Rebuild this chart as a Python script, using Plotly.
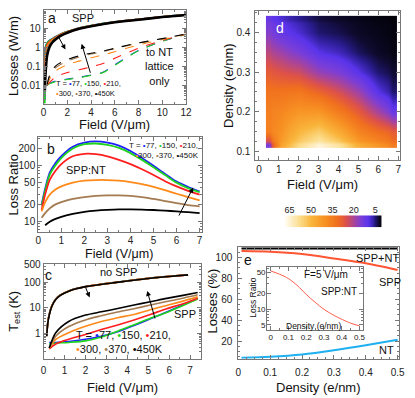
"""Figure à 5 panneaux : pertes SPP / NT en fonction du champ et de la densité"""

import math

import plotly.graph_objects as go

W, H = 415, 398
FONT = "Liberation Sans, Arial, sans-serif"

# températures et couleurs des courbes
TEMPS = ["77", "150", "210", "300", "370", "450"]
T_COLORS = ["#1f1fff", "#1ed21e", "#ff1e1e", "#ff8a1a", "#a47b50", "#000000"]

# --- panneau a : pertes (W/m) ---
A_FIELD_SPP = [0.1, 0.15, 0.2, 0.3, 0.5, 0.75, 1, 1.5, 2, 3, 4, 6, 8, 10, 12]
A_SPP = [
    [0.002, 0.9, 1.3, 1.8, 2.4, 3.0, 3.7, 5.4, 7.0, 10.8, 14.3, 22.5, 30.5, 41.5, 53.5],
    [0.0012, 0.8, 1.25, 1.75, 2.35, 2.95, 3.65, 5.35, 6.95, 10.7, 14.2, 22.4, 30.4, 41.4, 53.4],
    [0.01, 0.35, 0.85, 1.45, 2.1, 2.75, 3.45, 5.15, 6.8, 10.5, 14.0, 22.2, 30.2, 41.2, 53.2],
    [0.01, 0.15, 0.45, 1.1, 1.85, 2.55, 3.25, 4.95, 6.6, 10.3, 13.8, 22.0, 30.0, 41.0, 53.0],
    [0.01, 0.08, 0.25, 0.75, 1.55, 2.3, 3.05, 4.75, 6.4, 10.1, 13.6, 21.8, 29.8, 40.8, 52.5],
    [0.005, 0.03, 0.1, 0.4, 1.1, 1.95, 2.7, 4.4, 6.1, 9.8, 13.3, 21.5, 29.5, 40.5, 52.0],
]
A_FIELD_NT = [0.3, 0.5, 1, 2, 3, 4, 5, 6, 8, 10, 12]
A_NT = [
    [0.012, 0.014, 0.018, 0.023, 0.028, 0.038, 0.052, 0.13, 0.72, 2.2, 5.0],
    [0.011, 0.013, 0.017, 0.022, 0.027, 0.036, 0.05, 0.12, 0.7, 2.2, 5.0],
    [0.011, 0.015, 0.03, 0.05, 0.07, 0.1, 0.15, 0.28, 0.95, 2.4, 5.1],
    [0.011, 0.022, 0.06, 0.13, 0.2, 0.3, 0.42, 0.62, 1.4, 2.7, 5.2],
    [0.012, 0.03, 0.09, 0.2, 0.33, 0.47, 0.62, 0.9, 1.75, 2.95, 5.3],
    [0.012, 0.035, 0.11, 0.24, 0.38, 0.52, 0.66, 0.95, 1.8, 3.0, 5.3],
]

# --- panneau b : rapport SPP:NT ---
B_FIELD = [0.15, 0.3, 0.5, 0.75, 1, 1.5, 2, 2.5, 3, 3.5, 4, 4.5, 5, 5.5, 6, 6.5, 7]
B_RATIO = [
    [20, 38, 74, 110, 146, 215, 255, 268, 255, 225, 180, 135, 98, 70, 51, 41, 34],
    [19, 35, 68, 100, 135, 200, 238, 245, 232, 205, 165, 125, 92, 67, 49, 39, 33],
    [16, 30, 55, 80, 105, 145, 160, 158, 145, 125, 105, 85, 67, 52, 42, 35, 30],
    [15, 22, 30, 37, 42, 49, 53, 54.5, 54.5, 53, 50, 46, 41, 36, 31, 27, 23.5],
    [11.5, 14, 17, 20, 22, 25, 27, 28.5, 29, 29, 28.5, 27, 25, 23, 21, 19.5, 18.5],
    [None, 8.5, 9.8, 11, 12, 13.5, 14.7, 15.5, 16, 16.3, 16.3, 16.2, 15.9, 15.5, 15, 14.5, 14],
]

# --- panneau c : température estimée ---
C_FIELD_NOSPP = [0.15, 0.2, 0.27, 0.4, 0.58, 0.8, 1.2, 1.6, 2.1, 2.8, 3.5, 4.3, 5.1, 6.0, 6.9]
C_NOSPP = [
    [0.9, 2.8, 5.8, 12.5, 22.5, 32, 46, 58, 70, 85, 100, 122, 145, 170, 195],
    [0.9, 2.8, 5.8, 12.5, 22.5, 32, 46, 58, 70, 85, 100, 122, 145, 170, 195],
    [0.85, 2.7, 5.6, 12.3, 22, 31.5, 45.5, 57.5, 69.5, 84.5, 99.5, 121, 144, 169, 194],
    [0.85, 2.7, 5.6, 12.3, 22, 31.5, 45.5, 57.5, 69.5, 84.5, 99.5, 121, 144, 169, 194],
    [0.8, 2.6, 5.4, 12, 21.5, 31, 45, 57, 69, 84, 99, 121, 144, 169, 194],
    [0.8, 2.5, 5.3, 12, 21.5, 31, 45, 57, 69, 84, 99, 120, 143, 168, 193],
]
C_FIELD_SPP = [0.27, 0.58, 1.2, 2.0, 2.76, 3.54, 4.32, 5.1, 5.88, 6.66, 7.36]
C_SPP = [
    [0.46, 0.46, 0.5, 0.61, 0.8, 1.19, 2.1, 3.8, 7.0, 13.3, 23.7],
    [0.4, 0.43, 0.46, 0.53, 0.75, 1.26, 2.24, 4.0, 6.7, 12.6, 22.4],
    [0.26, 0.4, 0.61, 0.94, 1.45, 2.2, 3.45, 5.6, 9.4, 14.5, 23.7],
    [0.27, 0.6, 1.1, 1.94, 3.0, 4.2, 5.6, 8.5, 12.6, 18.5, 27.0],
    [0.28, 0.8, 1.9, 3.45, 5.0, 7.0, 9.4, 13.0, 17.8, 24.0, 32.5],
    [0.28, 1.1, 3.0, 5.3, 7.1, 9.5, 13.0, 17.5, 23.7, 31.0, 40.0],
]

# --- panneau d : carte du rapport de pertes ---
D_FIELD_EDGES = [0.35, 0.7, 1.5, 2.5, 3.5, 4.5, 5.5, 6.5, 6.95]
D_DENSITY_EDGES = [0.1075, 0.125, 0.175, 0.225, 0.275, 0.325, 0.375, 0.425, 0.4425]
D_RATIO = [
    [15, 45, 58, 66, 60, 48, 42, 35],
    [36, 41, 50, 55, 47, 37, 32, 28],
    [36, 38, 42, 42, 35, 28, 20, 12],
    [33, 33, 34, 30, 25, 19, 10, 5],
    [28, 26, 24, 18, 15, 10, 5, 3],
    [22, 19, 15, 10, 8, 4.5, 2.5, 1.5],
    [16, 12, 9, 5, 4, 2.5, 1.8, 1.2],
    [12, 9, 6, 3.5, 2.5, 1.8, 1.3, 1.0],
]
CBAR_LEVELS = list(range(1, 69))
CBAR_TICKS = [65, 50, 35, 20, 5]

# --- panneau e : répartition des pertes ---
E_DENSITY = [0.01, 0.1, 0.2, 0.3, 0.4, 0.5]
E_TOTAL = [108.5, 108.5, 108.5, 108.5, 108.5, 108.5]
E_SPP = [106, 105.4, 103.2, 99, 94.4, 88]
E_NT = [4, 5, 7.2, 11.2, 16, 21.3]
INSET_DENSITY = [0, 0.05, 0.1, 0.15, 0.2, 0.25, 0.3, 0.35, 0.4, 0.45, 0.5]
INSET_RATIO = [53, 46, 38, 28, 19, 13.5, 9.9, 7.8, 6.4, 5.4, 4.8]

# échelle de couleurs (valeur -> couleur)
CMAP = [
    (0.5, "#000000"), (3, "#0e0b30"), (6, "#2a1c90"), (10, "#5a34ec"),
    (15, "#7a3ed8"), (20, "#a8449c"), (26, "#de5248"), (32, "#f0701e"),
    (40, "#f78f22"), (50, "#f9b53c"), (58, "#fcdc8a"), (68.4, "#fffcf2"),
]
ZMIN, ZMAX = 0.5, 68.4
colorscale = [[(v - ZMIN) / (ZMAX - ZMIN), c] for v, c in CMAP]


def dom_x(left, right):
    return [left / W, right / W]


def dom_y(top, bottom):
    return [1 - bottom / H, 1 - top / H]


fig = go.Figure()


def add_line(x, y, color, ax, width=1.6, dash=None):
    fig.add_trace(go.Scatter(
        x=x, y=y, mode="lines", xaxis=ax[0], yaxis=ax[1],
        line=dict(color=color, width=width, dash=dash, shape="spline", smoothing=0.8),
        showlegend=False, hoverinfo="skip", connectgaps=False,
    ))


# panneau a
for vals, col in zip(A_NT, T_COLORS):
    add_line(A_FIELD_NT, vals, col, ("x", "y"), width=1.1, dash="dash")
for vals, col in zip(A_SPP, T_COLORS):
    add_line(A_FIELD_SPP, vals, col, ("x", "y"), width=2.6 if col == "#000000" else 1.8)

# panneau b
for vals, col in zip(B_RATIO, T_COLORS):
    add_line(B_FIELD, vals, col, ("x2", "y2"), width=1.8)

# panneau c
for vals, col in zip(C_SPP, T_COLORS):
    add_line(C_FIELD_SPP, vals, col, ("x3", "y3"), width=1.6)
for vals, col in zip(C_NOSPP, T_COLORS):
    add_line(C_FIELD_NOSPP, vals, col, ("x3", "y3"), width=1.6)

# panneau d
fig.add_trace(go.Heatmap(
    x=D_FIELD_EDGES, y=D_DENSITY_EDGES, z=D_RATIO, zsmooth="best",
    colorscale=colorscale, zmin=ZMIN, zmax=ZMAX, showscale=False,
    xaxis="x4", yaxis="y4", hoverinfo="skip",
))
fig.add_trace(go.Heatmap(
    x=CBAR_LEVELS, y=[0], z=[CBAR_LEVELS], zsmooth="best",
    colorscale=colorscale, zmin=ZMIN, zmax=ZMAX, showscale=False,
    xaxis="x5", yaxis="y5", hoverinfo="skip",
))

# panneau e
add_line(E_DENSITY, E_TOTAL, "#000000", ("x6", "y6"), width=2)
add_line(E_DENSITY, E_SPP, "#ff5533", ("x6", "y6"), width=2)
add_line(E_DENSITY, E_NT, "#1eb0f0", ("x6", "y6"), width=2)
add_line(INSET_DENSITY, INSET_RATIO, "#ff5a4a", ("x7", "y7"), width=1)

AXIS = dict(
    showline=True, linecolor="#777", linewidth=1, mirror="allticks",
    ticks="inside", ticklen=4, tickcolor="#777", showgrid=False, zeroline=False,
    tickfont=dict(size=10, color="#222", family=FONT),
)
SMALL = dict(size=8, color="#222", family=FONT)


def minor(dtick=None, length=2):
    m = dict(ticks="inside", ticklen=length, tickcolor="#777", showgrid=False)
    if dtick is not None:
        m["dtick"] = dtick
    return m


def lg(v):
    return math.log10(v)


fig.update_layout(
    width=W, height=H, margin=dict(l=0, r=0, t=0, b=0),
    paper_bgcolor="white", plot_bgcolor="white",
    font=dict(family=FONT, color="#222"),
    # a
    xaxis=dict(AXIS, domain=dom_x(41.5, 187), anchor="y", range=[0, 12],
               tickvals=[0, 2, 4, 6, 8, 10, 12], minor=minor(1), ticklabelstandoff=-1),
    yaxis=dict(AXIS, domain=dom_y(5, 100), anchor="x", type="log", range=[-2.93, 1.98],
               tickvals=[0.01, 0.1, 1, 10], ticktext=["0.01", "0.1", "1", "10"],
               minor=minor("D1")),
    # b
    xaxis2=dict(AXIS, domain=dom_x(36, 203), anchor="y2", range=[0, 7.085],
                tickvals=list(range(8)), minor=minor(0.5), ticklabelstandoff=-1),
    yaxis2=dict(AXIS, domain=dom_y(134, 230), anchor="x2", type="log", range=[0.806, 2.5],
                tickvals=[10, 20, 50, 100, 200], ticktext=["10", "20", "50", "100", "200"],
                minor=minor("D1")),
    # c
    xaxis3=dict(AXIS, domain=dom_x(41.5, 202), anchor="y3", range=[0, 7.5],
                tickvals=list(range(8)), minor=minor(0.5), ticklabelstandoff=2),
    yaxis3=dict(AXIS, domain=dom_y(262, 359), anchor="x3", type="log", range=[-1, 2.72],
                tickvals=[1, 10, 100, 500], ticktext=["1", "10", "100", "500"],
                minor=minor("D1")),
    # d
    xaxis4=dict(AXIS, domain=dom_x(258, 406), anchor="y4", range=[-0.18, 7.1],
                tickvals=list(range(8)), minor=minor(0.5)),
    yaxis4=dict(AXIS, domain=dom_y(6, 157), anchor="x4", range=[0.0775, 0.455],
                tickvals=[0.1, 0.2, 0.3, 0.4], minor=minor(0.025), ticklabelstandoff=2),
    # barre de couleur
    xaxis5=dict(domain=dom_x(288, 387), anchor="y5", range=[68.4, 0.5], side="top",
                tickvals=CBAR_TICKS, ticks="", showline=False, showgrid=False, zeroline=False,
                tickfont=dict(size=9, color="#222", family=FONT)),
    yaxis5=dict(domain=dom_y(213, 225), anchor="x5", visible=False, range=[-0.5, 0.5]),
    # e
    xaxis6=dict(AXIS, domain=dom_x(240.5, 405), anchor="y6", range=[0, 0.505],
                tickvals=[0, 0.1, 0.2, 0.3, 0.4, 0.5], ticklabelstandoff=4, minor=minor(0.025)),
    yaxis6=dict(AXIS, domain=dom_y(245, 358.3), anchor="x6", range=[3, 110],
                tickvals=[20, 40, 60, 80, 100], minor=minor(5), ticklabelstandoff=3),
    # encart
    xaxis7=dict(AXIS, domain=dom_x(270, 368), anchor="y7", range=[-0.02, 0.52],
                tickvals=[0, 0.1, 0.2, 0.3, 0.4, 0.5], minor=minor(0.05), tickfont=SMALL),
    yaxis7=dict(AXIS, domain=dom_y(265, 329), anchor="x7", type="log", range=[0.605, 1.806],
                tickvals=[5, 10, 20, 50], ticktext=["5", "10", "20", "50"], minor=minor("D1"),
                tickfont=SMALL, ticklabelstandoff=-1),
)


def t_legend():
    p = [f"<span style='color:{c}'>•</span>{t}" for t, c in zip(TEMPS, T_COLORS)]
    return "T = " + ", ".join(p[:3]) + ",<br>" + ", ".join(p[3:]) + "K"


notes = []


def note(text, x, y, size=11, color="#111", xanchor="center", align="center", angle=0):
    notes.append(dict(text=text, x=x / W, y=1 - y / H, xref="paper", yref="paper",
                      xanchor=xanchor, yanchor="middle", align=align, showarrow=False,
                      textangle=angle, font=dict(size=size, color=color, family=FONT)))


def arrow(xa, ya, x0, y0, x1, y1, logy=True):
    if logy:
        y0, y1 = lg(y0), lg(y1)
    notes.append(dict(x=x1, y=y1, ax=x0, ay=y0, xref=xa, yref=ya, axref=xa, ayref=ya,
                      text="", showarrow=True, arrowhead=2, arrowsize=1,
                      arrowwidth=1, arrowcolor="#000"))


# titres d'axes
FIELD = "Field (V/μm)"
note(FIELD, 114, 121, 13)
note("Losses (W/m)", 11, 52, 13, angle=-90)
note(FIELD, 119, 252, 12.5)
note("Loss Ratio", 11, 182, 13, angle=-90)
note(FIELD, 122, 387, 13)
note("T<sub>est</sub> (K)", 11, 310, 13, angle=-90)
note(FIELD, 327, 182, 13)
note("Density (e/nm)", 231, 81, 13, angle=-90)
note("Density (e/nm)", 322, 387, 13)
note("Losses (%)", 214, 300, 13, angle=-90)
note("Loss Ratio", 256, 296, 8.5, angle=-90)
note("Density (e/nm)", 317, 325, 8.5)

# textes panneau a
note("a", 50, 13, 14)
note("SPP", 82, 13, 11)
note("to NT<br>lattice<br>only", 160, 62, 11)
note(t_legend(), 52, 85, 7.5, xanchor="left", align="left")
arrow("x", "y", 1.15, 4.9, 1.84, 0.81)
arrow("x", "y", 3.98, 0.041, 3.21, 1.6)

# textes panneau b
note("b", 49, 146, 14)
note("SPP:NT", 85, 167, 11)
note(t_legend(), 202, 147, 8, xanchor="right", align="right")
arrow("x2", "y2", 6.07, 11.9, 6.72, 40)

# textes panneau c
note("c", 47, 273, 14)
note("no SPP", 118, 270, 11)
note("SPP", 186, 313, 11)
note(t_legend(), 73, 341, 11, xanchor="left", align="left")
arrow("x3", "y3", 1.98, 70.8, 2.2, 25.8)
arrow("x3", "y3", 5.34, 3.45, 4.95, 46)

# textes panneau d
note("d", 283, 23, 14, color="white")

# textes panneau e
note("e", 250, 258, 14)
note("SPP+NT", 383, 256, 11)
note("SPP", 396, 281, 11)
note("NT", 392, 349, 11)
note("F=5 V/μm", 330, 273, 10)
note("SPP:NT", 343, 290, 10)

fig.update_layout(annotations=notes)

# la page HTML par défaut ajoute une marge de 8 px autour du graphique
fig.write_html("out.html", config={"displayModeBar": False},
               post_script="document.body.style.margin = '0px';")
